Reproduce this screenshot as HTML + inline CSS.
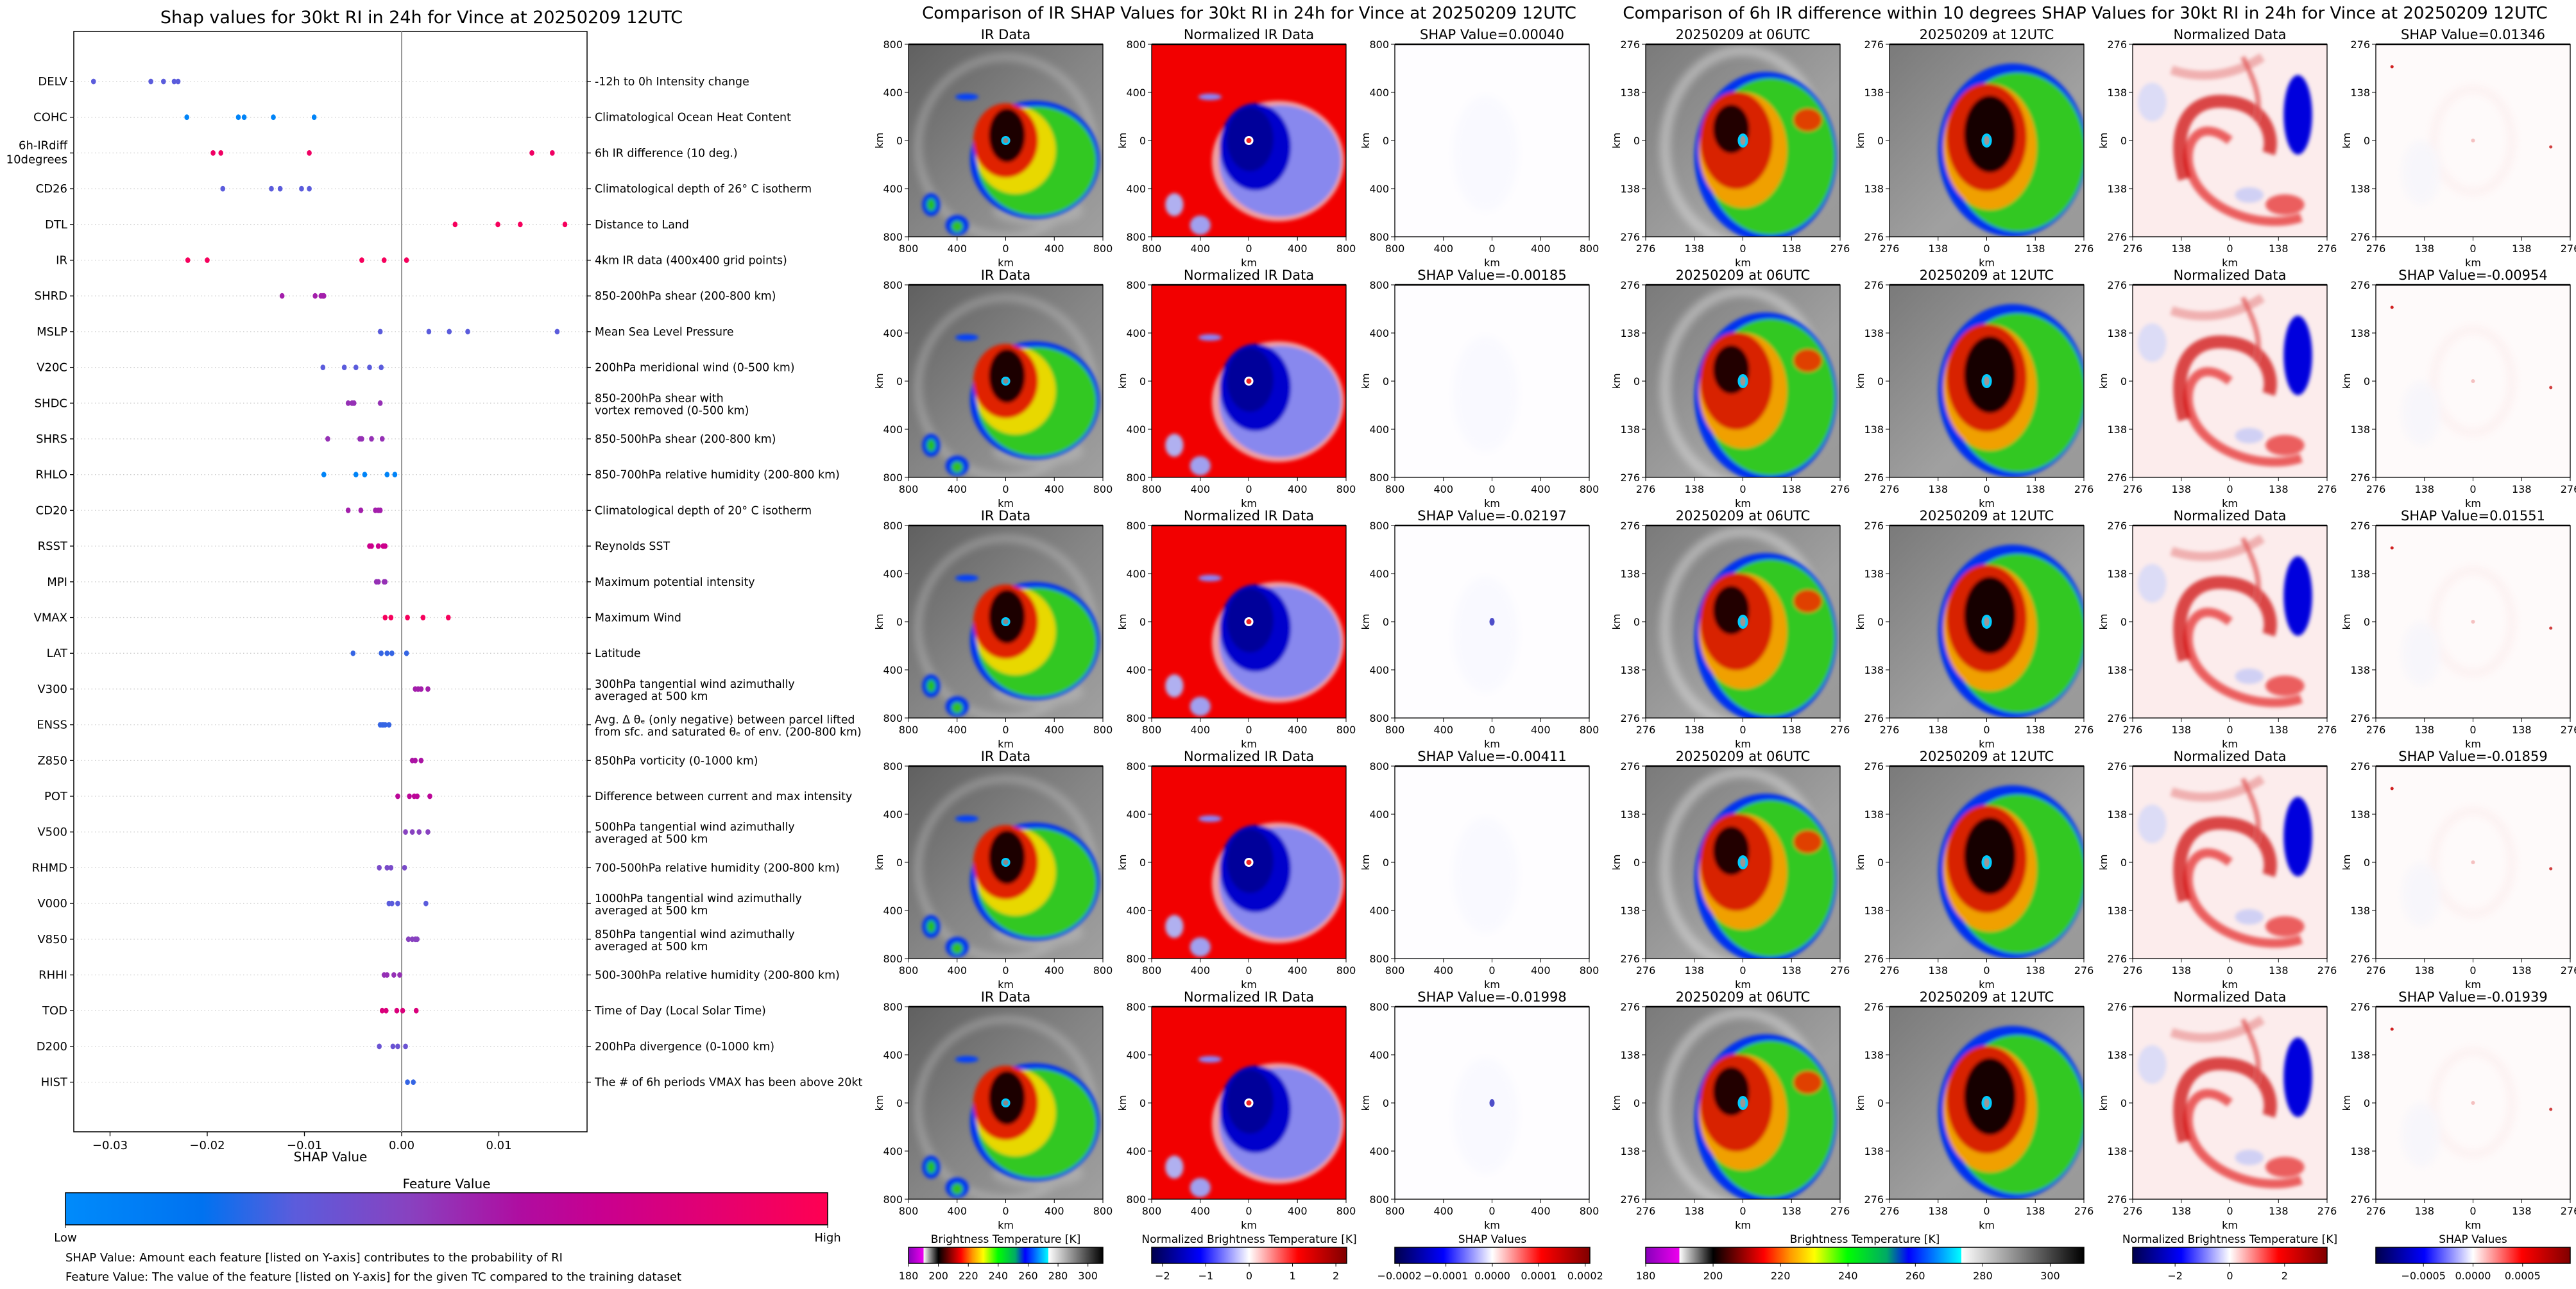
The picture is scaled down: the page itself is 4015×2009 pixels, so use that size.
<!DOCTYPE html>
<html><head><meta charset="utf-8">
<style>
html,body{margin:0;padding:0;background:#fff;}
svg{display:block;}
text{font-family:"DejaVu Sans","Liberation Sans",sans-serif;fill:#000;}
</style></head>
<body>
<svg id="fig" xmlns="http://www.w3.org/2000/svg" width="4015" height="2009" viewBox="0 0 4015 2009">
<defs>
  <linearGradient id="greyBg" x1="0" y1="0" x2="1" y2="1">
    <stop offset="0" stop-color="#606060"/><stop offset="0.5" stop-color="#858585"/><stop offset="1" stop-color="#a0a0a0"/>
  </linearGradient>
  <linearGradient id="greyBg2" x1="0" y1="0" x2="1" y2="1">
    <stop offset="0" stop-color="#7a7a7a"/><stop offset="0.6" stop-color="#a0a0a0"/><stop offset="1" stop-color="#999"/>
  </linearGradient>
  <filter id="soft" x="-10%" y="-10%" width="120%" height="120%"><feGaussianBlur stdDeviation="3"/></filter>
  <filter id="soft2" x="-10%" y="-10%" width="120%" height="120%"><feGaussianBlur stdDeviation="6"/></filter>
  <linearGradient id="cbShap" x1="0" x2="1">
    <stop offset="0" stop-color="#008bfb"/><stop offset="0.18" stop-color="#0072f0"/><stop offset="0.3" stop-color="#5b5cdc"/>
    <stop offset="0.45" stop-color="#8842c0"/><stop offset="0.6" stop-color="#b00ca0"/><stop offset="0.7" stop-color="#c80090"/>
    <stop offset="1" stop-color="#ff0052"/>
  </linearGradient>
  <linearGradient id="cbIR" x1="0" x2="1">
    <stop offset="0" stop-color="#8800bb"/><stop offset="0.077" stop-color="#ee00ee"/>
    <stop offset="0.077" stop-color="#ffffff"/><stop offset="0.154" stop-color="#000000"/>
    <stop offset="0.27" stop-color="#ff0000"/><stop offset="0.33" stop-color="#ff9900"/>
    <stop offset="0.385" stop-color="#ffff00"/><stop offset="0.46" stop-color="#00ff00"/>
    <stop offset="0.55" stop-color="#00aa66"/><stop offset="0.6" stop-color="#0000ff"/>
    <stop offset="0.72" stop-color="#00ffff"/><stop offset="0.72" stop-color="#ffffff"/>
    <stop offset="1" stop-color="#000000"/>
  </linearGradient>
  <linearGradient id="cbSeis" x1="0" x2="1">
    <stop offset="0" stop-color="#00004c"/><stop offset="0.25" stop-color="#0000ff"/>
    <stop offset="0.5" stop-color="#ffffff"/><stop offset="0.75" stop-color="#ff0000"/><stop offset="1" stop-color="#800000"/>
  </linearGradient>

  <symbol id="irMid" viewBox="0 0 300 300" preserveAspectRatio="none">
    <rect width="300" height="300" fill="url(#greyBg)"/>
    <g filter="url(#soft2)" opacity="0.35">
      <ellipse cx="150" cy="160" rx="135" ry="140" fill="none" stroke="#d8d8d8" stroke-width="12"/>
      <ellipse cx="200" cy="260" rx="70" ry="22" fill="#d0d0d0"/>
    </g>
    <g filter="url(#soft)">
      <ellipse cx="195" cy="180" rx="100" ry="92" fill="#0030f0"/>
      <ellipse cx="198" cy="182" rx="92" ry="85" fill="#30c820"/>
      <ellipse cx="165" cy="165" rx="62" ry="68" fill="#e8d800"/>
      <ellipse cx="150" cy="150" rx="50" ry="58" fill="#e02000"/>
      <ellipse cx="152" cy="142" rx="28" ry="42" fill="#1a0000"/>
      <ellipse cx="35" cy="250" rx="14" ry="18" fill="#0030f0"/>
      <ellipse cx="35" cy="250" rx="7" ry="10" fill="#20c020"/>
      <ellipse cx="75" cy="282" rx="18" ry="16" fill="#0030f0"/>
      <ellipse cx="75" cy="284" rx="9" ry="9" fill="#30c020"/>
      <ellipse cx="90" cy="82" rx="18" ry="5" fill="#0040ff"/>
    </g>
    <circle cx="150" cy="150" r="7" fill="#00ccff"/><circle cx="150" cy="150" r="4" fill="#888"/>
  </symbol>

  <symbol id="normMid" viewBox="0 0 300 300" preserveAspectRatio="none">
    <rect width="300" height="300" fill="#f20000"/>
    <g filter="url(#soft)">
      <ellipse cx="195" cy="182" rx="102" ry="94" fill="#f0a0a0"/>
      <ellipse cx="198" cy="182" rx="94" ry="87" fill="#8888ee"/>
      <ellipse cx="160" cy="160" rx="55" ry="68" fill="#0000cc"/>
      <ellipse cx="152" cy="148" rx="36" ry="50" fill="#00009a"/>
      <ellipse cx="35" cy="250" rx="14" ry="18" fill="#b0b0f0"/>
      <ellipse cx="75" cy="282" rx="16" ry="15" fill="#a0a0f0"/>
      <ellipse cx="90" cy="82" rx="18" ry="5" fill="#8888ff"/>
    </g>
    <circle cx="150" cy="150" r="7" fill="#ffffff"/><circle cx="150" cy="150" r="4" fill="#ee2222"/>
  </symbol>

  <symbol id="shapMid" viewBox="0 0 300 300" preserveAspectRatio="none">
    <rect width="300" height="300" fill="#fefdff"/>
    <ellipse cx="140" cy="170" rx="50" ry="90" fill="#f9f9ff" filter="url(#soft2)"/>
  </symbol>
  <symbol id="shapMidDot" viewBox="0 0 300 300" preserveAspectRatio="none">
    <rect width="300" height="300" fill="#fefdff"/>
    <ellipse cx="140" cy="170" rx="50" ry="90" fill="#f9f9ff" filter="url(#soft2)"/>
    <ellipse cx="150" cy="150" rx="4" ry="6" fill="#3030c0" opacity="0.85"/>
  </symbol>

  <symbol id="irR06" viewBox="0 0 300 300" preserveAspectRatio="none">
    <rect width="300" height="300" fill="url(#greyBg2)"/>
    <g filter="url(#soft2)" opacity="0.5">
      <ellipse cx="150" cy="160" rx="120" ry="150" fill="none" stroke="#e0e0e0" stroke-width="16"/>
    </g>
    <g filter="url(#soft)">
      <ellipse cx="185" cy="175" rx="110" ry="132" fill="#0030f0"/>
      <ellipse cx="192" cy="175" rx="100" ry="122" fill="#30c820"/>
      <ellipse cx="150" cy="165" rx="68" ry="90" fill="#f0a000"/>
      <ellipse cx="140" cy="150" rx="56" ry="76" fill="#d82000"/>
      <ellipse cx="132" cy="132" rx="28" ry="38" fill="#200000"/>
      <ellipse cx="250" cy="118" rx="22" ry="18" fill="#e04000"/>
    </g>
    <ellipse cx="150" cy="150" rx="8" ry="11" fill="#00ccff"/><ellipse cx="150" cy="150" rx="4" ry="7" fill="#999"/>
  </symbol>

  <symbol id="irR12" viewBox="0 0 300 300" preserveAspectRatio="none">
    <rect width="300" height="300" fill="url(#greyBg2)"/>
    <g filter="url(#soft)">
      <ellipse cx="190" cy="165" rx="115" ry="135" fill="#0030f0"/>
      <ellipse cx="198" cy="168" rx="104" ry="124" fill="#30c820"/>
      <ellipse cx="155" cy="160" rx="72" ry="98" fill="#f0a000"/>
      <ellipse cx="150" cy="145" rx="62" ry="84" fill="#d82000"/>
      <ellipse cx="155" cy="140" rx="40" ry="60" fill="#150000"/>
    </g>
    <ellipse cx="150" cy="150" rx="8" ry="11" fill="#00ccff"/><ellipse cx="150" cy="150" rx="4" ry="7" fill="#999"/>
  </symbol>

  <symbol id="normR" viewBox="0 0 300 300" preserveAspectRatio="none">
    <rect width="300" height="300" fill="#fcecec"/>
    <g filter="url(#soft)">
      <path d="M150 150 C 100 110, 75 160, 90 200 C 110 260, 200 290, 260 270" fill="none" stroke="#e00000" stroke-width="14" opacity="0.6"/>
      <path d="M80 210 C 60 140, 80 80, 150 90 C 200 95, 220 140, 210 170" fill="none" stroke="#cc0000" stroke-width="20" opacity="0.7"/>
      <path d="M60 40 C 120 60, 170 40, 200 20" fill="none" stroke="#f0b0b0" stroke-width="14"/>
      <path d="M170 20 C 190 60, 200 90, 190 120" fill="none" stroke="#e05050" stroke-width="8" opacity="0.7"/>
      <ellipse cx="255" cy="110" rx="22" ry="62" fill="#0000dd"/>
      <ellipse cx="30" cy="90" rx="22" ry="30" fill="#dcdcf6"/>
      <ellipse cx="235" cy="250" rx="30" ry="16" fill="#e00000" opacity="0.6"/>
      <ellipse cx="180" cy="235" rx="22" ry="12" fill="#d0d0f4"/>
    </g>
  </symbol>

  <symbol id="shapR" viewBox="0 0 300 300" preserveAspectRatio="none">
    <rect width="300" height="300" fill="#fefafa"/>
    <g filter="url(#soft2)" opacity="0.5">
      <ellipse cx="150" cy="150" rx="60" ry="80" fill="none" stroke="#fbe8e8" stroke-width="12"/>
      <ellipse cx="70" cy="200" rx="30" ry="50" fill="#f2f3fc"/>
    </g>
    <circle cx="25" cy="35" r="2.5" fill="#d02020"/><circle cx="270" cy="160" r="2.5" fill="#d04040"/>
    <circle cx="150" cy="150" r="3" fill="#f4c0c0"/>
  </symbol>
</defs>
<g id="root"></g>
</svg>

<script>
// ====== Left chart data ======
const features = ["DELV","COHC","6h-IRdiff|10degrees","CD26","DTL","IR","SHRD","MSLP","V20C","SHDC","SHRS","RHLO","CD20","RSST","MPI","VMAX","LAT","V300","ENSS","Z850","POT","V500","RHMD","V000","V850","RHHI","TOD","D200","HIST"];
const descriptions = ["-12h to 0h Intensity change","Climatological Ocean Heat Content","6h IR difference (10 deg.)","Climatological depth of 26° C isotherm","Distance to Land","4km IR data (400x400 grid points)","850-200hPa shear (200-800 km)","Mean Sea Level Pressure","200hPa meridional wind (0-500 km)","850-200hPa shear with|vortex removed (0-500 km)","850-500hPa shear (200-800 km)","850-700hPa relative humidity (200-800 km)","Climatological depth of 20° C isotherm","Reynolds SST","Maximum potential intensity","Maximum Wind","Latitude","300hPa tangential wind azimuthally|averaged at 500 km","Avg. Δ θₑ (only negative) between parcel lifted|from sfc. and saturated θₑ of env. (200-800 km)","850hPa vorticity (0-1000 km)","Difference between current and max intensity","500hPa tangential wind azimuthally|averaged at 500 km","700-500hPa relative humidity (200-800 km)","1000hPa tangential wind azimuthally|averaged at 500 km","850hPa tangential wind azimuthally|averaged at 500 km","500-300hPa relative humidity (200-800 km)","Time of Day (Local Solar Time)","200hPa divergence (0-1000 km)","The # of 6h periods VMAX has been above 20kt"];
const shapValues = [
 [-0.0317,-0.0258,-0.0245,-0.0234,-0.0230],
 [-0.0221,-0.0168,-0.0162,-0.0132,-0.0090],
 [-0.0194,-0.0186,-0.0095,0.0134,0.0155],
 [-0.0184,-0.0134,-0.0125,-0.0103,-0.0095],
 [0.0055,0.0099,0.0122,0.0168],
 [-0.0220,-0.0200,-0.0041,-0.0018,0.0005],
 [-0.0123,-0.0089,-0.0083,-0.0081,-0.0080],
 [-0.0022,0.0028,0.0049,0.0068,0.0160],
 [-0.0081,-0.0059,-0.0047,-0.0033,-0.0021],
 [-0.0055,-0.0051,-0.0049,-0.0022],
 [-0.0076,-0.0043,-0.0041,-0.0031,-0.0020],
 [-0.0080,-0.0047,-0.0038,-0.0015,-0.0007],
 [-0.0055,-0.0042,-0.0027,-0.0024,-0.0022],
 [-0.0033,-0.0031,-0.0024,-0.0019,-0.0017],
 [-0.0026,-0.0024,-0.0018,-0.0017],
 [-0.0017,-0.0011,0.0006,0.0022,0.0048],
 [-0.0050,-0.0021,-0.0015,-0.0010,0.0005],
 [0.0014,0.0017,0.0020,0.0027],
 [-0.0022,-0.0020,-0.0019,-0.0017,-0.0013],
 [0.0011,0.0014,0.0020],
 [-0.0004,0.0008,0.0013,0.0016,0.0029],
 [0.0004,0.0011,0.0018,0.0027],
 [-0.0023,-0.0015,-0.0011,0.0003],
 [-0.0013,-0.0010,-0.0004,0.0025],
 [0.0007,0.0011,0.0014,0.0016],
 [-0.0018,-0.0015,-0.0008,-0.0002],
 [-0.0020,-0.0016,-0.0005,0.0001,0.0015],
 [-0.0023,-0.0009,-0.0004,0.0004],
 [0.0006,0.0012]
];
const featureValues = [0.3,0.05,0.92,0.3,0.95,0.95,0.55,0.3,0.3,0.5,0.5,0.05,0.55,0.72,0.5,0.95,0.25,0.55,0.25,0.58,0.65,0.45,0.4,0.3,0.45,0.5,0.8,0.35,0.25];
const xTicks = [-0.03,-0.02,-0.01,0.00,0.01];
const xTickLabels = ["\u22120.03","\u22120.02","\u22120.01","0.00","0.01"];

// ====== Image panel data ======
const midShapTitles = ["0.00040","-0.00185","-0.02197","-0.00411","-0.01998"];
const rightShapTitles = ["0.01346","-0.00954","0.01551","-0.01859","-0.01939"];
const midTickLabels = ["800","400","0","400","800"];
const rightTickLabels = ["276","138","0","138","276"];
const irTicks = [180,200,220,240,260,280,300];
const normMidTicks = [-2,-1,0,1,2];
const shapMidTicks = [-0.0002,-0.0001,0.0000,0.0001,0.0002];
const normRTicks = [-2,0,2];
const shapRTicks = [-0.0005,0.0000,0.0005];

const NS = "http://www.w3.org/2000/svg";
const root = document.getElementById('root');
function mk(tag, attrs, parent, txt){
  const e = document.createElementNS(NS, tag);
  for (const k in attrs) e.setAttribute(k, attrs[k]);
  if (txt !== undefined) e.textContent = txt;
  (parent || root).appendChild(e);
  return e;
}

// ---------- Left chart ----------
const AX_L = 115, AX_R = 915, AX_T = 49, AX_B = 1764;
const ZERO_X = 626, PX_PER_UNIT = 15150;
function xScale(v){ return ZERO_X + v * PX_PER_UNIT; }
function yRow(i){ return 127 + i * 55.7; }
const cStops = [[0,[0,139,251]],[0.18,[0,114,240]],[0.3,[91,92,220]],[0.45,[136,66,192]],[0.6,[176,12,160]],[0.7,[200,0,144]],[1,[255,0,82]]];
function cmap(t){
  for (let i=1;i<cStops.length;i++){
    if (t<=cStops[i][0]){
      const a=cStops[i-1], b=cStops[i], f=(t-a[0])/(b[0]-a[0]);
      const c=a[1].map((v,j)=>Math.round(v+(b[1][j]-v)*f));
      return `rgb(${c[0]},${c[1]},${c[2]})`;
    }
  }
  return 'rgb(255,0,82)';
}

const left = mk('g', {});



const lt = mk('text', {x:657, y:36, 'font-size':27, 'text-anchor':'middle'}, left, 'Shap values for 30kt RI in 24h for Vince at 20250209 12UTC');



const frame = mk('rect', {x:AX_L, y:AX_T, width:AX_R-AX_L, height:AX_B-AX_T, fill:'none', stroke:'#000', 'stroke-width':1.5}, left);



const zl = mk('line', {x1:xScale(0), x2:xScale(0), y1:AX_T, y2:AX_B, stroke:'#999', 'stroke-width':2}, left);



features.forEach((f, i) => {
  const y = yRow(i);
  const g = mk('g', {}, left);
  
  
  mk('line', {x1:AX_L, x2:AX_R, y1:y, y2:y, stroke:'#ccc', 'stroke-width':1.3, 'stroke-dasharray':'1.5 4'}, g);
  mk('line', {x1:AX_L-6, x2:AX_L, y1:y, y2:y, stroke:'#000', 'stroke-width':1.3}, g);
  mk('line', {x1:AX_R, x2:AX_R+6, y1:y, y2:y, stroke:'#000', 'stroke-width':1.3}, g);
  const parts = f.split('|');
  const lab = mk('text', {x:AX_L-10, y: parts.length>1 ? y-6 : y+6, 'font-size':18, 'text-anchor':'end'}, g);
  
  
  parts.forEach((p, k) => { mk('tspan', {x:AX_L-10, dy: k===0?0:22}, lab, p); });
  const dparts = descriptions[i].split('|');
  const dl = mk('text', {x:AX_R+12, y: dparts.length>1 ? y-2 : y+6, 'font-size':17.4}, g);
  
  
  dparts.forEach((p, k) => { mk('tspan', {x:AX_R+12, dy: k===0?0:19}, dl, p); });
  const col = cmap(featureValues[i]);
  shapValues[i].forEach(v => {
    const d = mk('ellipse', {cx:xScale(v), cy:y, rx:3.8, ry:4.4, fill:col}, g);
    
    
  });
});

xTicks.forEach((t, k) => {
  const x = xScale(t);
  mk('line', {x1:x, x2:x, y1:AX_B, y2:AX_B+7, stroke:'#000', 'stroke-width':1.3}, left);
  const tl = mk('text', {x:x, y:AX_B+27, 'font-size':18, 'text-anchor':'middle'}, left, xTickLabels[k]);
  
  
});
const xt = mk('text', {x:515, y:1810, 'font-size':20, 'text-anchor':'middle'}, left, 'SHAP Value');



const fvt = mk('text', {x:696, y:1852, 'font-size':20, 'text-anchor':'middle'}, left, 'Feature Value');


const fcb = mk('rect', {x:102, y:1859, width:1188, height:50, fill:'url(#cbShap)', stroke:'#000', 'stroke-width':1.5}, left);


mk('line', {x1:102, x2:102, y1:1909, y2:1914, stroke:'#000'}, left);
mk('line', {x1:1290, x2:1290, y1:1909, y2:1914, stroke:'#000'}, left);
const lo = mk('text', {x:102, y:1935, 'font-size':18, 'text-anchor':'middle'}, left, 'Low');


const hi = mk('text', {x:1290, y:1935, 'font-size':18, 'text-anchor':'middle'}, left, 'High');


const n1 = mk('text', {x:102, y:1966, 'font-size':18}, left, 'SHAP Value: Amount each feature [listed on Y-axis] contributes to the probability of RI');


const n2 = mk('text', {x:102, y:1996, 'font-size':18}, left, 'Feature Value: The value of the feature [listed on Y-axis] for the given TC compared to the training dataset');



// ---------- Image panels ----------
const PW = 303, PH = 300;
const rowTops = [69, 444, 819, 1194, 1569];
const midX = [1416, 1795, 2174];
const rightX = [2565, 2945, 3324, 3703];

const st1 = mk('text', {x:1947, y:29, 'font-size':26, 'text-anchor':'middle'}, null, 'Comparison of IR SHAP Values for 30kt RI in 24h for Vince at 20250209 12UTC');


const st2 = mk('text', {x:3250, y:29, 'font-size':26, 'text-anchor':'middle'}, null, 'Comparison of 6h IR difference within 10 degrees SHAP Values for 30kt RI in 24h for Vince at 20250209 12UTC');



function panel(x, y, sym, title, ticks, name){
  const g = mk('g', {});
  
  
  mk('use', {href:'#'+sym, x:x, y:y, width:PW, height:PH}, g);
  mk('rect', {x:x, y:y, width:PW, height:PH, fill:'none', stroke:'#000', 'stroke-width':1.3}, g);
  mk('line', {x1:x, x2:x+PW, y1:y, y2:y, stroke:'#000', 'stroke-width':2.5}, g);
  const t = mk('text', {x:x+PW/2, y:y-8, 'font-size':21, 'text-anchor':'middle'}, g, title);
  
  
  ticks.forEach((lab, k) => {
    const yy = y + PH*k/4, xx = x + PW*k/4;
    mk('line', {x1:x-6, x2:x, y1:yy, y2:yy, stroke:'#000'}, g);
    mk('text', {x:x-9, y:yy+6, 'font-size':16, 'text-anchor':'end'}, g, lab);
    mk('line', {x1:xx, x2:xx, y1:y+PH, y2:y+PH+6, stroke:'#000'}, g);
    mk('text', {x:xx, y:y+PH+24, 'font-size':16, 'text-anchor':'middle'}, g, lab);
  });
  mk('text', {x:x+PW/2, y:y+PH+46, 'font-size':16, 'text-anchor':'middle'}, g, 'km');
  mk('text', {x:x-40, y:y+PH/2, 'font-size':16, 'text-anchor':'middle', transform:`rotate(-90 ${x-40} ${y+PH/2})`}, g, 'km');
}

rowTops.forEach((y, r) => {
  panel(midX[0], y, 'irMid', 'IR Data', midTickLabels, 'ir-data-panel');
  panel(midX[1], y, 'normMid', 'Normalized IR Data', midTickLabels, 'normalized-ir-panel');
  panel(midX[2], y, (r===2||r===4)?'shapMidDot':'shapMid', 'SHAP Value=' + midShapTitles[r], midTickLabels, 'ir-shap-panel');
  panel(rightX[0], y, 'irR06', '20250209 at 06UTC', rightTickLabels, 'ir-06utc-panel');
  panel(rightX[1], y, 'irR12', '20250209 at 12UTC', rightTickLabels, 'ir-12utc-panel');
  panel(rightX[2], y, 'normR', 'Normalized Data', rightTickLabels, 'normalized-diff-panel');
  panel(rightX[3], y, 'shapR', 'SHAP Value=' + rightShapTitles[r], rightTickLabels, 'diff-shap-panel');
});

// ---------- Bottom colorbars ----------
function colorbar(x0, w, grad, title, ticks, vmin, vmax, fmt, name){
  const g = mk('g', {});
  
  
  const t = mk('text', {x:x0+w/2, y:1937, 'font-size':17, 'text-anchor':'middle'}, g, title);
  
  
  mk('rect', {x:x0, y:1944, width:w, height:25, fill:'url(#'+grad+')', stroke:'#000', 'stroke-width':1.5}, g);
  ticks.forEach(v => {
    const x = x0 + (v - vmin)/(vmax - vmin)*w;
    mk('line', {x1:x, x2:x, y1:1969, y2:1974, stroke:'#000'}, g);
    mk('text', {x:x, y:1994, 'font-size':16, 'text-anchor':'middle'}, g, fmt(v));
  });
}
const neg = s => s.replace('-', '\u2212');
colorbar(1416, 303, 'cbIR', 'Brightness Temperature [K]', irTicks, 180, 310, v => String(v), 'ir-colorbar');
colorbar(1795, 304, 'cbSeis', 'Normalized Brightness Temperature [K]', normMidTicks, -2.25, 2.25, v => neg(String(v)), 'normalized-colorbar');
colorbar(2174, 304, 'cbSeis', 'SHAP Values', shapMidTicks, -0.00021, 0.00021, v => neg(v.toFixed(4)), 'shap-colorbar');
colorbar(2565, 683, 'cbIR', 'Brightness Temperature [K]', irTicks, 180, 310, v => String(v), 'diff-ir-colorbar');
colorbar(3324, 303, 'cbSeis', 'Normalized Brightness Temperature [K]', normRTicks, -3.55, 3.55, v => neg(String(v)), 'diff-normalized-colorbar');
colorbar(3703, 303, 'cbSeis', 'SHAP Values', shapRTicks, -0.00098, 0.00098, v => neg(v.toFixed(4)), 'diff-shap-colorbar');
</script>
</body></html>
